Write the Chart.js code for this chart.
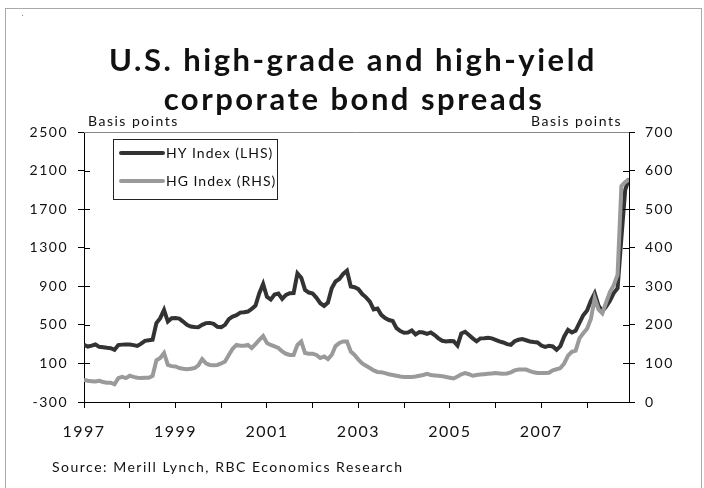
<!DOCTYPE html>
<html>
<head>
<meta charset="utf-8">
<script src="https://cdn.jsdelivr.net/npm/chart.js@4.4.0/dist/chart.umd.min.js"></script>
<style>
  html, body { margin: 0; padding: 0; background: #fff; }
</style>
</head>
<body>
<canvas id="myChart" width="704" height="488"></canvas>
<script>
// monthly data, Jan 1997 .. Dec 2008 (x = month index)
const yearTicks = [0, 12, 24, 36, 48, 60, 72, 84, 96, 108, 120, 132];
const tickLabels = ['1997', '', '1999', '', '2001', '', '2003', '', '2005', '', '2007', ''];

// HY index, basis points (left axis)
const hyIndex = [
  293, 275, 285, 296, 272, 268, 262, 258, 241, 290, 295, 296,
  296, 290, 282, 305, 334, 340, 345, 518, 569, 655, 534, 569,
  570, 565, 534, 500, 483, 478, 476, 500, 518, 520, 510, 480,
  476, 500, 560, 586, 600, 627, 630, 638, 665, 700, 828, 924,
  790, 762, 815, 825, 770, 810, 828, 830, 1034, 989, 862, 835,
  825, 780, 724, 697, 731, 880, 950, 975, 1028, 1062, 897, 890,
  870, 820, 785, 741, 660, 670, 604, 570, 550, 540, 466, 435,
  418, 420, 441, 400, 425, 420, 407, 421, 395, 360, 335, 328,
  332, 330, 285, 410, 428, 395, 360, 330, 360, 362, 365, 360,
  345, 328, 317, 300, 293, 330, 345, 352, 340, 328, 322, 317,
  285, 272, 283, 276, 241, 280, 380, 448, 421, 440, 520, 600,
  650, 750, 828, 700, 640, 690, 750, 830, 880, 1400, 1900, 2018
];

// HG index, basis points (right axis)
const hgIndex = [
  57, 55, 54, 53, 55, 52, 50, 50, 46, 62, 65, 62,
  68, 65, 63, 62, 63, 63, 68, 108, 114, 127, 96, 93,
  92, 88, 86, 85, 86, 88, 95, 111, 100, 96, 95, 96,
  100, 105, 122, 138, 148, 146, 146, 148, 140, 150, 161, 171,
  153, 148, 144, 140, 131, 125, 122, 122, 148, 157, 127, 125,
  125, 122, 114, 118, 111, 122, 145, 153, 157, 157, 131, 122,
  110, 100, 94, 88, 82, 78, 77, 75, 72, 70, 68, 66,
  65, 65, 65, 66, 68, 70, 73, 70, 69, 68, 67, 65,
  63, 61, 66, 72, 75, 72, 68, 70, 71, 72, 73, 74,
  75, 74, 73, 74, 77, 82, 84, 84, 84, 80, 77, 75,
  75, 75, 76, 82, 85, 88, 100, 120, 130, 133, 165, 178,
  190, 215, 269, 240, 230, 258, 285, 303, 330, 560, 570, 577
];

const FONT = 'Lato, "DejaVu Sans", sans-serif';
const TXT = '#111';
const hyColor = '#333333';
const hgColor = '#9a9a9a';

// inner half of the axis tick marks + frame, title, legend, notes
const decor = {
  id: 'decor',
  beforeDraw(chart) {
    chart.ctx.letterSpacing = '1.5px';
  },
  afterDraw(chart) {
    const ctx = chart.ctx;
    const a = chart.chartArea;
    ctx.save();

    // inner ticks on both value axes
    ctx.strokeStyle = '#000';
    ctx.lineWidth = 1;
    ['y', 'y1'].forEach(id => {
      const s = chart.scales[id];
      s.ticks.forEach((t, i) => {
        const py = Math.round(s.getPixelForTick(i)) + 0.5;
        ctx.beginPath();
        if (id === 'y') { ctx.moveTo(a.left, py); ctx.lineTo(a.left + 6, py); }
        else { ctx.moveTo(a.right, py); ctx.lineTo(a.right - 6, py); }
        ctx.stroke();
      });
    });

    // top frame line of the plot
    ctx.strokeStyle = '#888';
    ctx.beginPath();
    ctx.moveTo(a.left, Math.round(a.top) + 0.5);
    ctx.lineTo(a.right, Math.round(a.top) + 0.5);
    ctx.stroke();

    // outer border
    ctx.strokeStyle = '#aaa';
    ctx.strokeRect(5.5, 8.5, 696, 490);
    ctx.fillStyle = '#888';
    ctx.fillRect(22, 15, 1, 1);

    // title
    ctx.fillStyle = TXT;
    ctx.textAlign = 'center';
    ctx.textBaseline = 'alphabetic';
    ctx.letterSpacing = '2.5px';
    ctx.font = 'bold 31px ' + FONT;
    ctx.fillText('U.S. high-grade and high-yield', 353, 71);
    ctx.fillText('corporate bond spreads', 354, 110);

    // axis units
    ctx.letterSpacing = '1.5px';
    ctx.font = '14px ' + FONT;
    ctx.textAlign = 'left';
    ctx.fillText('Basis points', 88, 126);
    ctx.textAlign = 'right';
    ctx.fillText('Basis points', 622, 126);

    // legend
    ctx.fillStyle = '#fff';
    ctx.fillRect(113.5, 139.5, 164, 60);
    ctx.strokeStyle = '#222';
    ctx.strokeRect(113.5, 139.5, 164, 60);
    const items = [
      { label: chart.data.datasets[0].label, color: hyColor, y: 153 },
      { label: chart.data.datasets[1].label, color: hgColor, y: 181 }
    ];
    items.forEach(it => {
      ctx.strokeStyle = it.color;
      ctx.lineWidth = 4;
      ctx.lineCap = 'round';
      ctx.beginPath();
      ctx.moveTo(121, it.y);
      ctx.lineTo(163, it.y);
      ctx.stroke();
      ctx.fillStyle = TXT;
      ctx.textAlign = 'left';
      ctx.textBaseline = 'middle';
      ctx.letterSpacing = '1px';
      ctx.font = '14px ' + FONT;
      ctx.fillText(it.label, 166, it.y);
    });

    // source
    ctx.textBaseline = 'alphabetic';
    ctx.letterSpacing = '1.5px';
    ctx.font = '14px ' + FONT;
    ctx.fillText('Source: Merill Lynch, RBC Economics Research', 52, 472);
    ctx.restore();
  }
};

const ctx = document.getElementById('myChart').getContext('2d');
const chart = new Chart(ctx, {
  type: 'line',
  data: {
    datasets: [{
      label: 'HY Index (LHS)',
      data: hyIndex.map((v, i) => ({ x: i, y: v })),
      borderColor: hyColor,
      borderWidth: 4,
      pointRadius: 0,
      tension: 0,
      yAxisID: 'y',
      order: 1
    }, {
      label: 'HG Index (RHS)',
      data: hgIndex.map((v, i) => ({ x: i, y: v })),
      borderColor: hgColor,
      borderWidth: 4,
      pointRadius: 0,
      tension: 0,
      yAxisID: 'y1',
      order: 0
    }]
  },
  options: {
    responsive: false,
    animation: false,
    layout: { padding: { top: 132, left: 0, right: 0, bottom: 0 } },
    plugins: {
      legend: { display: false },
      tooltip: { enabled: false },
      title: { display: false }
    },
    scales: {
      x: {
        type: 'linear',
        min: 0,
        max: 143,
        afterBuildTicks: axis => { axis.ticks = yearTicks.map(v => ({ value: v })); },
        afterFit: s => { s.height = 86; },
        ticks: {
          autoSkip: false,
          maxRotation: 0,
          padding: 14,
          color: TXT,
          font: { family: FONT, size: 16 },
          callback: (v, i) => tickLabels[i]
        },
        grid: { drawOnChartArea: false, tickLength: 6, color: '#000' },
        border: { color: '#000' }
      },
      y: {
        position: 'left',
        min: -300,
        max: 2500,
        afterFit: s => { s.width = 84; },
        ticks: {
          stepSize: 400, padding: 10, color: TXT,
          font: { family: FONT, size: 14 },
          callback: v => String(v)
        },
        grid: { drawOnChartArea: false, tickLength: 6, color: '#000' },
        border: { color: '#000' }
      },
      y1: {
        position: 'right',
        min: 0,
        max: 700,
        afterFit: s => { s.width = 75; },
        ticks: {
          stepSize: 100, padding: 10, color: TXT,
          font: { family: FONT, size: 14 },
          callback: v => String(v)
        },
        grid: { drawOnChartArea: false, tickLength: 6, color: '#000' },
        border: { color: '#000' }
      }
    }
  },
  plugins: [decor]
});
</script>
</body>
</html>
